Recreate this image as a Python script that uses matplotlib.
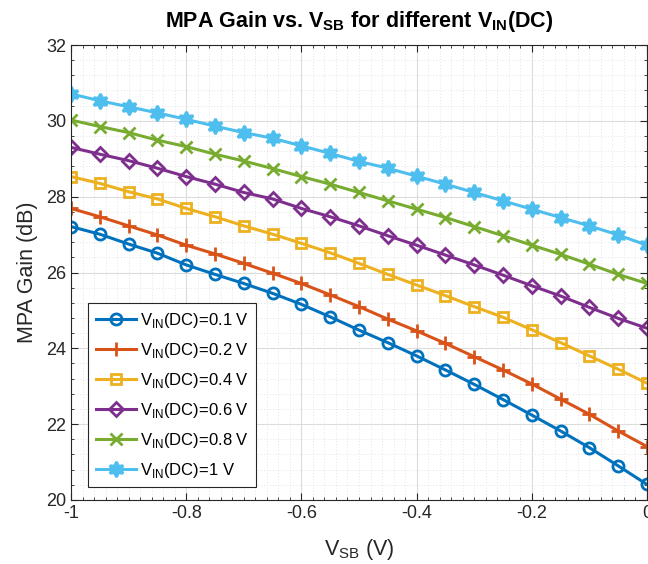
import numpy as np
import matplotlib
matplotlib.use("Agg")
from matplotlib import pyplot as plt
from matplotlib.ticker import MultipleLocator

plt.rcParams["font.family"] = ["Liberation Sans", "DejaVu Sans"]
plt.rcParams["mathtext.fontset"] = "custom"
plt.rcParams["mathtext.rm"] = "Liberation Sans"
plt.rcParams["mathtext.bf"] = "Liberation Sans:bold"

# sweep of V_SB (V)
vsb = [-1.0, -0.95, -0.9, -0.85, -0.8, -0.75, -0.7, -0.65, -0.6, -0.55, -0.5,
       -0.45, -0.4, -0.35, -0.3, -0.25, -0.2, -0.15, -0.1, -0.05, 0.0]

# MPA gain (dB) for each V_IN(DC)
gain_01 = [27.21, 27.01, 26.75, 26.51, 26.20, 25.95, 25.71, 25.45, 25.16, 24.83, 24.48,
           24.15, 23.80, 23.43, 23.05, 22.65, 22.24, 21.82, 21.38, 20.90, 20.41]
gain_02 = [27.69, 27.47, 27.23, 26.99, 26.72, 26.49, 26.24, 25.98, 25.71, 25.41, 25.10,
           24.77, 24.46, 24.13, 23.78, 23.43, 23.06, 22.66, 22.26, 21.82, 21.41]
gain_04 = [28.53, 28.35, 28.13, 27.94, 27.69, 27.47, 27.23, 27.01, 26.77, 26.52, 26.24,
           25.95, 25.67, 25.39, 25.10, 24.82, 24.49, 24.15, 23.80, 23.45, 23.08]
gain_06 = [29.30, 29.12, 28.95, 28.75, 28.53, 28.33, 28.11, 27.94, 27.69, 27.47, 27.23,
           26.97, 26.72, 26.46, 26.20, 25.93, 25.65, 25.38, 25.08, 24.79, 24.53]
gain_08 = [30.02, 29.85, 29.69, 29.49, 29.32, 29.12, 28.94, 28.74, 28.53, 28.33, 28.11,
           27.89, 27.67, 27.45, 27.21, 26.97, 26.72, 26.48, 26.22, 25.95, 25.71]
gain_10 = [30.71, 30.53, 30.37, 30.21, 30.04, 29.86, 29.69, 29.54, 29.34, 29.14, 28.93,
           28.75, 28.54, 28.33, 28.11, 27.89, 27.67, 27.45, 27.23, 26.99, 26.72]

vin_labels = ["0.1 V", "0.2 V", "0.4 V", "0.6 V", "0.8 V", "1 V"]
series = [gain_01, gain_02, gain_04, gain_06, gain_08, gain_10]

colors = ["#0072BD", "#D95319", "#EDB120", "#7E2F8E", "#77AC30", "#4DBEEE"]
markers = ["o", "+", "s", "D", "x", (6, 1, 0)]
msizes = [8, 10, 7, 7.5, 8, 11]

fig = plt.figure(figsize=(6.48, 5.64), dpi=100)
ax = fig.add_axes([71 / 648, 1 - 500 / 564, 576 / 648, 455 / 564])

for i, g in enumerate(series):
    filled = markers[i] == (6, 1, 0)
    ax.plot(vsb, g, color=colors[i], linewidth=2.2, marker=markers[i],
            markersize=msizes[i], markeredgewidth=2,
            markerfacecolor=colors[i] if filled else "none",
            label=r"V$_{\mathregular{IN}}$(DC)=" + vin_labels[i])

ax.set_xlim(-1, 0)
ax.set_ylim(20, 32)
ax.xaxis.set_major_locator(MultipleLocator(0.2))
ax.xaxis.set_minor_locator(MultipleLocator(0.02))
ax.yaxis.set_major_locator(MultipleLocator(2))
ax.yaxis.set_minor_locator(MultipleLocator(0.4))
ax.set_xticks([-1, -0.8, -0.6, -0.4, -0.2, 0])
ax.set_xticklabels(["-1", "-0.8", "-0.6", "-0.4", "-0.2", "0"])

ax.grid(which="major", color="#dcdcdc", linewidth=0.8)
ax.grid(which="minor", color="#e4e4e4", linewidth=0.7, linestyle=(0, (1, 2)))
ax.set_axisbelow(True)
ax.tick_params(which="both", direction="in", top=True, right=True,
               colors="#262626", labelsize=13, labelcolor="#262626")
ax.tick_params(which="major", length=5)
ax.tick_params(which="minor", length=2.5)
for s in ax.spines.values():
    s.set_color("#262626")
    s.set_linewidth(0.8)

ax.set_xlabel(r"V$_{\mathregular{SB}}$ (V)", fontsize=15.5, color="#262626", labelpad=11)
ax.set_ylabel("MPA Gain (dB)", fontsize=15.5, color="#262626", labelpad=6)
ax.set_title(r"MPA Gain vs. V$_{\mathregular{SB}}$ for different V$_{\mathregular{IN}}$(DC)",
             fontsize=15.5, fontweight="bold", color="black", pad=13)

leg = ax.legend(loc="lower left", bbox_to_anchor=(17 / 576, 13 / 455),
                borderaxespad=0, fontsize=12, handlelength=2.4,
                handletextpad=0.25, labelspacing=0.66, borderpad=0.45,
                fancybox=False, edgecolor="#262626", framealpha=1)
leg.get_frame().set_linewidth(0.8)

fig.savefig("out.png", dpi=100)
